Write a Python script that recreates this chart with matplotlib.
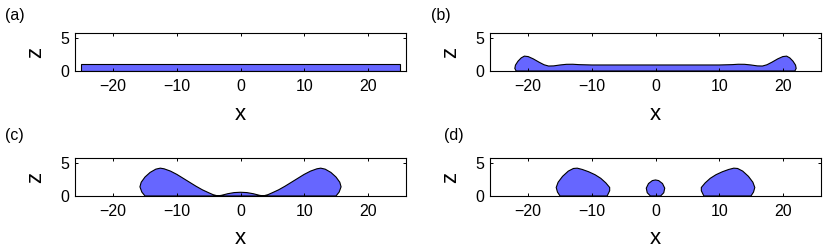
import numpy as np
import matplotlib
matplotlib.use('Agg')
import matplotlib.pyplot as plt

plt.rcParams['font.family'] = ['Liberation Sans', 'DejaVu Sans']

# panel (a): flat film from -25 to 25, height 1
film_x = [-25, 25]
film_z = 1.0

# left halves of the outlines (x, z), mirrored about x=0 to close them
b_x = [-21.9, -22.1, -22.0, -21.6, -21.1, -20.6, -20.0, -19.2, -18.3, -17.5,
       -16.8, -16.0, -15.0, -14.0, -13.0, -12.0, -10.0, 0.0]
b_z = [0.0, 0.4, 0.9, 1.5, 2.0, 2.27, 2.2, 1.85, 1.35, 0.95,
       0.76, 0.78, 0.92, 1.02, 1.03, 0.97, 0.92, 0.92]

c_x = [-15.0, -15.5, -15.8, -15.6, -15.0, -14.2, -13.3, -12.6, -12.0, -11.0,
       -10.0, -9.0, -8.0, -7.0, -6.0, -5.0, -4.3, -3.6, -3.0, -2.0, -1.0, 0.0]
c_z = [0.0, 0.6, 1.4, 2.1, 2.9, 3.6, 4.1, 4.25, 4.15, 3.8,
       3.3, 2.7, 2.1, 1.5, 0.95, 0.5, 0.2, 0.02, 0.1, 0.35, 0.52, 0.57]

d_blob_x = [-15.0, -15.4, -15.6, -15.3, -14.6, -13.7, -12.9, -12.3, -11.5, -10.5,
            -9.5, -8.6, -7.8, -7.2, -7.2, -7.6]
d_blob_z = [0.0, 0.6, 1.3, 2.1, 3.0, 3.8, 4.2, 4.25, 4.05, 3.7,
            3.25, 2.7, 2.0, 1.3, 0.8, 0.0]
d_drop_x = [-0.8, -1.3, -1.45, -1.1, -0.5, 0.0]
d_drop_z = [0.0, 0.5, 1.2, 1.9, 2.35, 2.45]

xticks = [-20, -10, 0, 10, 20]
yticks = [0, 5]
labels = ['(a)', '(b)', '(c)', '(d)']

fill_color = '#6666ff'


def mirrored(x, z):
    # symmetric outline: left half then right half, closed along z=0
    x = np.array(x)
    z = np.array(z)
    xs = np.concatenate([x, -x[::-1]])
    zs = np.concatenate([z, z[::-1]])
    return xs, zs


def style_axes(ax):
    ax.set_xlim(-26, 26)
    ax.set_ylim(0, 5.8)
    ax.set_xticks(xticks)
    ax.set_yticks(yticks)
    ax.set_xticklabels(['\u221220', '\u221210', '0', '10', '20'])
    ax.tick_params(direction='in', top=True, right=True, length=2.5,
                   width=0.7, labelsize=11.5)
    ax.tick_params(axis='x', pad=5.5)
    ax.tick_params(axis='y', pad=4)
    for s in ax.spines.values():
        s.set_linewidth(0.8)
    ax.set_xlabel('x', fontsize=16, va='center')
    ax.set_ylabel('z', fontsize=16, va='center', ha='center')
    ax.xaxis.set_label_coords(0.5, -43 / 38)
    ax.yaxis.set_label_coords(-39 / 331, 0.5)


fig = plt.figure(figsize=(8.3, 2.5), dpi=100)
W, H = 830, 250
positions = [(75, 71), (490, 71), (75, 196), (490, 196)]
axes = []
for (left, bottom) in positions:
    ax = fig.add_axes([left / W, 1 - bottom / H, 331 / W, 38 / H])
    axes.append(ax)

# (a)
ax = axes[0]
ax.fill([film_x[0], film_x[1], film_x[1], film_x[0]],
        [0, 0, film_z, film_z], facecolor=fill_color, edgecolor='black', lw=0.8)

# (b)
ax = axes[1]
xs, zs = mirrored(b_x, b_z)
ax.fill(xs, zs, facecolor=fill_color, edgecolor='black', lw=0.8)

# (c)
ax = axes[2]
xs, zs = mirrored(c_x, c_z)
ax.fill(xs, zs, facecolor=fill_color, edgecolor='black', lw=0.8)

# (d)
ax = axes[3]
bx = np.array(d_blob_x)
bz = np.array(d_blob_z)
ax.fill(bx, bz, facecolor=fill_color, edgecolor='black', lw=0.8)
ax.fill(-bx, bz, facecolor=fill_color, edgecolor='black', lw=0.8)
xs, zs = mirrored(d_drop_x, d_drop_z)
ax.fill(xs, zs, facecolor=fill_color, edgecolor='black', lw=0.8)

for ax in axes:
    style_axes(ax)

label_pos = [(5, 8), (431, 8), (5, 128), (444, 128)]
for lab, (px, py) in zip(labels, label_pos):
    fig.text(px / W, 1 - py / H, lab, fontsize=11.5, ha='left', va='top')

fig.savefig('out.png', dpi=100)
